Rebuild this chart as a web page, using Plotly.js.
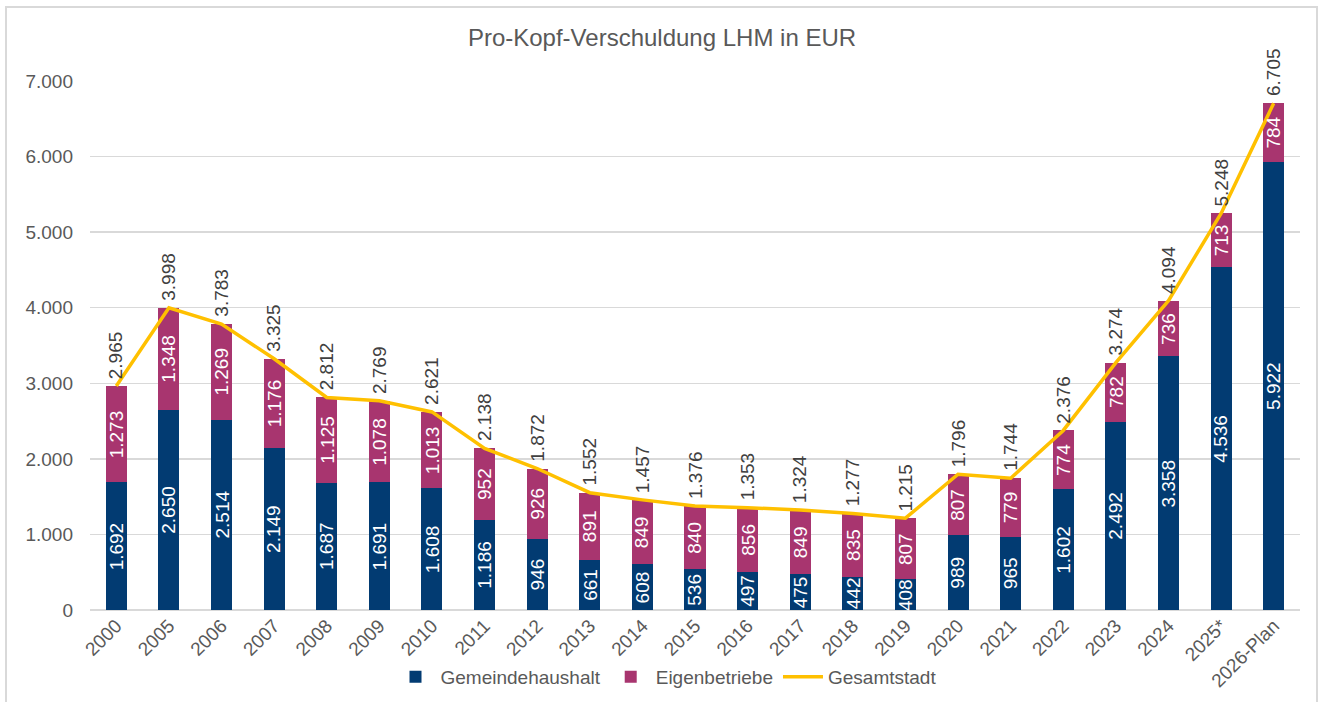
<!DOCTYPE html>
<html>
<head>
<meta charset="utf-8">
<script src="https://cdn.plot.ly/plotly-3.0.1.min.js"></script>
<style>
  html, body { margin: 0; padding: 0; background: #ffffff; }
  #wrap { position: relative; width: 1325px; height: 702px; }
  #chart { position: absolute; left: 0; top: 0; width: 1325px; height: 702px; }
  #frame { position: absolute; left: 5px; top: 6px; width: 1313px; height: 705px; border: 2px solid #d9d9d9; pointer-events: none; box-sizing: border-box; }
</style>
</head>
<body>
<div id="wrap">
  <div id="chart"></div>
  <div id="frame"></div>
</div>
<script>
const years = ["2000","2005","2006","2007","2008","2009","2010","2011","2012","2013","2014","2015","2016","2017","2018","2019","2020","2021","2022","2023","2024","2025*","2026-Plan"];
const gemeindehaushalt = [1692,2650,2514,2149,1687,1691,1608,1186,946,661,608,536,497,475,442,408,989,965,1602,2492,3358,4536,5922];
const eigenbetriebe = [1273,1348,1269,1176,1125,1078,1013,952,926,891,849,840,856,849,835,807,807,779,774,782,736,713,784];
const gesamtstadt = [2965,3998,3783,3325,2812,2769,2621,2138,1872,1552,1457,1376,1353,1324,1277,1215,1796,1744,2376,3274,4094,5248,6705];

const FONT = '"Liberation Sans", Arial, sans-serif';
const NAVY = '#023B72';
const MAGENTA = '#A8356F';
const GOLD = '#FFC000';
const FS = 19;

function fmt(v) {
  return String(v).replace(/\B(?=(\d{3})+(?!\d))/g, '.');
}

const traces = [
  {
    type: 'bar', name: 'Gemeindehaushalt', x: years, y: gemeindehaushalt,
    marker: { color: NAVY }, hoverinfo: 'x+y'
  },
  {
    type: 'bar', name: 'Eigenbetriebe', x: years, y: eigenbetriebe,
    marker: { color: MAGENTA }, hoverinfo: 'x+y'
  },
  {
    type: 'scatter', mode: 'lines', name: 'Gesamtstadt', x: years, y: gesamtstadt,
    line: { color: GOLD, width: 3.5 }, hoverinfo: 'x+y'
  }
];

const annotations = [];
years.forEach((yr, i) => {
  annotations.push({
    x: i, y: gemeindehaushalt[i] / 2, xref: 'x', yref: 'y',
    text: fmt(gemeindehaushalt[i]), showarrow: false, textangle: -90,
    font: { family: FONT, size: FS, color: '#ffffff' },
    xanchor: 'center', yanchor: 'middle'
  });
  annotations.push({
    x: i, y: gemeindehaushalt[i] + eigenbetriebe[i] / 2, xref: 'x', yref: 'y',
    text: fmt(eigenbetriebe[i]), showarrow: false, textangle: -90,
    font: { family: FONT, size: FS, color: '#ffffff' },
    xanchor: 'center', yanchor: 'middle'
  });
  annotations.push({
    x: i, y: gesamtstadt[i], xref: 'x', yref: 'y',
    text: fmt(gesamtstadt[i]), showarrow: false, textangle: -90,
    font: { family: FONT, size: FS, color: '#404040' },
    xanchor: 'center', yanchor: 'bottom', yshift: 5
  });
});

const layout = {
  width: 1325, height: 702,
  paper_bgcolor: '#ffffff', plot_bgcolor: '#ffffff',
  separators: ',.',
  margin: { l: 90, r: 25, t: 81, b: 92, pad: 0 },
  font: { family: FONT, size: FS, color: '#595959' },
  title: {
    text: 'Pro-Kopf-Verschuldung LHM in EUR',
    font: { family: FONT, size: 24, color: '#595959' },
    x: (662 - 90) / 1210, xanchor: 'center', xref: 'paper',
    y: 1 - 38 / 702, yanchor: 'middle', yref: 'container'
  },
  barmode: 'stack',
  bargap: 0.6,
  xaxis: {
    type: 'category', range: [-0.5, years.length - 0.5], autorange: false,
    tickangle: -45, showgrid: false, showline: false,
    zeroline: false, ticks: '', tickfont: { family: FONT, size: FS, color: '#595959' },
    fixedrange: true
  },
  yaxis: {
    range: [0, 7000], autorange: false, dtick: 1000, tick0: 0, tickformat: ',d',
    showgrid: true, gridcolor: '#d9d9d9', gridwidth: 1.5,
    zeroline: true, zerolinecolor: '#d9d9d9', zerolinewidth: 2,
    showline: false, ticks: '', ticklabelstandoff: 16,
    tickfont: { family: FONT, size: FS, color: '#595959' },
    fixedrange: true
  },
  legend: {
    orientation: 'h', x: (666 - 90) / 1210, xanchor: 'center', xref: 'paper',
    y: (702 - 677) / 702, yanchor: 'middle', yref: 'container',
    font: { family: FONT, size: FS, color: '#595959' },
    traceorder: 'normal', itemwidth: 40
  },
  annotations: annotations,
  showlegend: true
};

Plotly.newPlot('chart', traces, layout, { displayModeBar: false, staticPlot: true });
</script>
</body>
</html>
